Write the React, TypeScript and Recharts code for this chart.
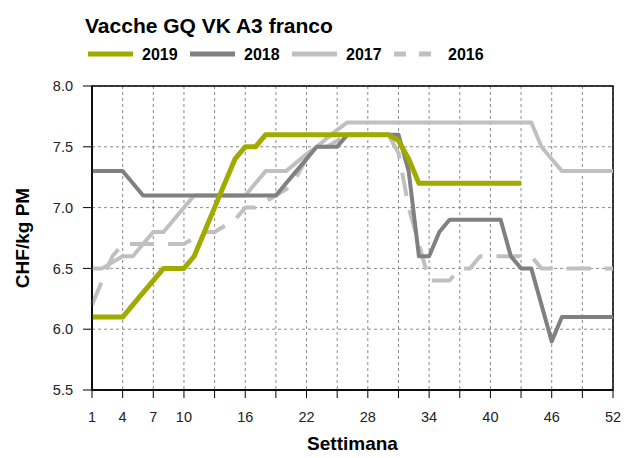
import React from 'react';
import { LineChart, Line, XAxis, YAxis, CartesianGrid, Legend, ReferenceArea } from 'recharts';

const weeks = [1,2,3,4,5,6,7,8,9,10,11,12,13,14,15,16,17,18,19,20,21,22,23,24,25,26,27,28,29,30,31,32,33,34,35,36,37,38,39,40,41,42,43,44,45,46,47,48,49,50,51,52];

const s2019 = [6.1,6.1,6.1,6.1,6.2,6.3,6.4,6.5,6.5,6.5,6.6,6.8,7.0,7.2,7.4,7.5,7.5,7.6,7.6,7.6,7.6,7.6,7.6,7.6,7.6,7.6,7.6,7.6,7.6,7.6,7.55,7.4,7.2,7.2,7.2,7.2,7.2,7.2,7.2,7.2,7.2,7.2,7.2];

const s2018 = [7.3,7.3,7.3,7.3,7.2,7.1,7.1,7.1,7.1,7.1,7.1,7.1,7.1,7.1,7.1,7.1,7.1,7.1,7.1,7.2,7.3,7.4,7.5,7.5,7.5,7.6,7.6,7.6,7.6,7.6,7.6,7.3,6.6,6.6,6.8,6.9,6.9,6.9,6.9,6.9,6.9,6.6,6.5,6.5,6.2,5.9,6.1,6.1,6.1,6.1,6.1,6.1];

const s2017 = [6.5,6.5,6.55,6.6,6.6,6.7,6.8,6.8,6.9,7.0,7.1,7.1,7.1,7.1,7.1,7.1,7.2,7.3,7.3,7.3,7.37,7.44,7.5,7.57,7.64,7.7,7.7,7.7,7.7,7.7,7.7,7.7,7.7,7.7,7.7,7.7,7.7,7.7,7.7,7.7,7.7,7.7,7.7,7.7,7.5,7.4,7.3,7.3,7.3,7.3,7.3,7.3];

const s2016 = [6.2,6.4,6.6,6.7,6.7,6.7,6.7,6.7,6.7,6.7,6.75,6.8,6.8,6.85,6.9,7.0,7.0,7.05,7.1,7.15,7.25,7.4,7.5,7.5,7.55,7.6,7.6,7.6,7.6,7.6,7.45,7.0,6.7,6.4,6.4,6.4,6.5,6.5,6.6,6.6,6.6,6.6,6.6,6.6,6.5,6.5,6.5,6.5,6.5,6.5,6.5,6.5];

const xTicks = [1,4,7,10,13,16,19,22,25,28,31,34,37,40,43,46,49,52];
const xTickLabels = [1,4,7,10,16,22,28,34,40,46,52];
const yTicks = [5.5,6.0,6.5,7.0,7.5,8.0];

const seriesNames = ['2019','2018','2017','2016'];
const seriesColors = ['#a0ab00','#808080','#c0c0c0','#c0c0c0'];
const seriesDash = [undefined, undefined, undefined, '12 13'];

const data = weeks.map((w, i) => ({
  week: w,
  y2019: i < s2019.length ? s2019[i] : null,
  y2018: s2018[i],
  y2017: s2017[i],
  y2016: s2016[i],
}));

const FONT = '"Liberation Sans", Arial, sans-serif';

const renderLegend = () => (
  <svg width={633} height={22}>
    {seriesNames.map((name, i) => {
      const x0 = 88 + i * 102;
      return (
        <g key={name}>
          <line x1={x0} x2={x0 + 45} y1={11} y2={11} stroke={seriesColors[i]} strokeWidth={5} strokeDasharray={seriesDash[i]} />
          <text x={x0 + 54} y={16.8} fontFamily={FONT} fontWeight="bold" fontSize={16} fill="#000">{name}</text>
        </g>
      );
    })}
  </svg>
);

const YLabel = (props: any) => {
  const vb = props.viewBox || { x: 0, y: 86, width: 92, height: 304 };
  const cx = vb.x + 22;
  const cy = vb.y + vb.height / 2;
  return (
    <text x={cx} y={cy} transform={`rotate(-90 ${cx} ${cy})`} textAnchor="middle" dominantBaseline="central" fontFamily={FONT} fontWeight="bold" fontSize={19} fill="#000">CHF/kg PM</text>
  );
};

const XLabel = (props: any) => {
  const vb = props.viewBox || { x: 92, y: 390, width: 521, height: 68 };
  const cx = vb.x + vb.width / 2;
  const cy = vb.y + 53;
  return (
    <text x={cx} y={cy} textAnchor="middle" dominantBaseline="central" fontFamily={FONT} fontWeight="bold" fontSize={19} fill="#000">Settimana</text>
  );
};

export default function App() {
  return (
    <div style={{ position: 'absolute', left: 0, top: 0, width: 633, height: 458, background: '#fff' }}>
      <div style={{ position: 'absolute', left: 85, top: 15, fontFamily: FONT, fontWeight: 'bold', fontSize: 21, lineHeight: 1, color: '#000', whiteSpace: 'nowrap', zIndex: 2 }}>
        Vacche GQ VK A3 franco
      </div>
      <LineChart width={633} height={458} data={data} margin={{ top: 86, right: 20, bottom: 0, left: 0 }}>
        <CartesianGrid stroke="#8a8a8a" strokeDasharray="3 3" strokeWidth={1} />
        <ReferenceArea x1={1} x2={52} y1={5.5} y2={8} fill="none" stroke="#000" strokeWidth={1.5} ifOverflow="visible" />
        <XAxis
          dataKey="week"
          type="number"
          domain={[1, 52]}
          ticks={xTicks}
          interval={0}
          tickSize={8}
          tickMargin={14}
          height={68}
          axisLine={{ stroke: '#000', strokeWidth: 1.5 }}
          tickLine={{ stroke: '#000', strokeWidth: 1 }}
          tick={{ fontFamily: FONT, fontSize: 14.5, fill: '#222' }}
          tickFormatter={(v: number) => (xTickLabels.includes(v) ? String(v) : '')}
          label={{ content: XLabel }}
        />
        <YAxis
          type="number"
          domain={[5.5, 8]}
          ticks={yTicks}
          interval={0}
          width={92}
          tickSize={9}
          tickMargin={10}
          axisLine={{ stroke: '#000', strokeWidth: 1.5 }}
          tickLine={{ stroke: '#000', strokeWidth: 1 }}
          tick={{ fontFamily: FONT, fontSize: 14.5, fill: '#222' }}
          tickFormatter={(v: number) => v.toFixed(1)}
          label={{ content: YLabel }}
        />
        <Legend layout="horizontal" verticalAlign="middle" align="center" content={renderLegend} wrapperStyle={{ position: 'absolute', top: 43, left: 0, width: 633, height: 22 }} />
        <Line dataKey="y2016" name="2016" stroke="#c0c0c0" strokeWidth={4} strokeDasharray="24 14" dot={false} isAnimationActive={false} strokeLinejoin="round" legendType="none" />
        <Line dataKey="y2017" name="2017" stroke="#c0c0c0" strokeWidth={4} dot={false} isAnimationActive={false} strokeLinejoin="round" />
        <Line dataKey="y2018" name="2018" stroke="#808080" strokeWidth={4} dot={false} isAnimationActive={false} strokeLinejoin="round" />
        <Line dataKey="y2019" name="2019" stroke="#a0ab00" strokeWidth={5} dot={false} isAnimationActive={false} strokeLinejoin="round" connectNulls={false} />
      </LineChart>
    </div>
  );
}
